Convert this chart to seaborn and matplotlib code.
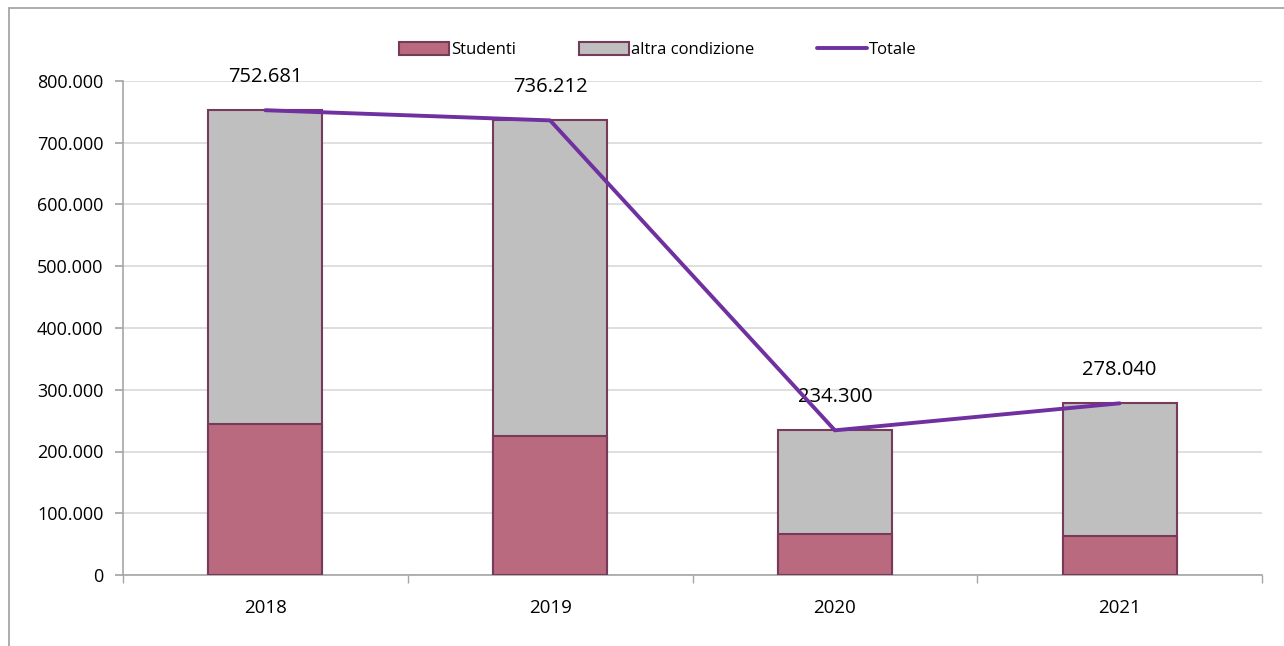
import numpy as np
import pandas as pd
import matplotlib
matplotlib.use("Agg")
import matplotlib.pyplot as plt
from matplotlib.patches import Patch
from matplotlib.lines import Line2D
from matplotlib.ticker import FuncFormatter
import seaborn as sns

# dati
anni = ["2018", "2019", "2020", "2021"]
studenti = [244500, 225100, 65900, 63200]
totale = [752681, 736212, 234300, 278040]
altra_condizione = [t - s for t, s in zip(totale, studenti)]

col_stud = "#B96A7E"
col_altra = "#BFBFBF"
col_bordo = "#763A5A"
col_tot = "#7030A0"

sns.set_theme(style="white")
plt.rcParams["font.family"] = ["Open Sans", "DejaVu Sans"]

df = pd.DataFrame({"anno": anni, "studenti": studenti, "totale": totale})

fig = plt.figure(figsize=(12.84, 6.46), dpi=100)
ax = fig.add_axes([123 / 1284, 1 - 575 / 646, (1262 - 123) / 1284, (575 - 81) / 646])

# barra grigia = totale, sopra la parte studenti
sns.barplot(data=df, x="anno", y="totale", color=col_altra, saturation=1,
            width=0.4, edgecolor=col_bordo, linewidth=1.5, ax=ax, zorder=2)
sns.barplot(data=df, x="anno", y="studenti", color=col_stud, saturation=1,
            width=0.4, edgecolor=col_bordo, linewidth=1.5, ax=ax, zorder=3)
sns.lineplot(x=np.arange(len(anni)), y=totale, color=col_tot, linewidth=2.8,
             ax=ax, zorder=4)

fmt = lambda v: f"{int(v):,}".replace(",", ".")
for i, t in enumerate(totale):
    ax.annotate(fmt(t), (i, t), xytext=(0, 17), textcoords="offset points",
                ha="center", va="bottom", fontsize=14.5, color="black")

ax.set_ylim(0, 800000)
ax.set_xlim(-0.5, 3.5)
ax.set_yticks(np.arange(0, 800001, 100000))
ax.yaxis.set_major_formatter(FuncFormatter(lambda v, p: fmt(v)))
ax.grid(axis="y", color="#D9D9D9", linewidth=1.2, zorder=0)
ax.set_axisbelow(True)
ax.set_xlabel("")
ax.set_ylabel("")

for s in ["top", "right"]:
    ax.spines[s].set_visible(False)
for s in ["left", "bottom"]:
    ax.spines[s].set_color("#A6A6A6")
    ax.spines[s].set_linewidth(1.2)

ax.tick_params(axis="y", left=True, length=6, color="#A6A6A6", labelsize=13,
               labelcolor="black", pad=8)
ax.tick_params(axis="x", bottom=False, labelsize=13.5, labelcolor="black", pad=11)
ax.set_xticks(np.arange(-0.5, 3.6, 1), minor=True)
ax.tick_params(axis="x", which="minor", bottom=True, length=6, color="#A6A6A6")

handles = [Patch(facecolor=col_stud, edgecolor=col_bordo, linewidth=1.5),
           Patch(facecolor=col_altra, edgecolor=col_bordo, linewidth=1.5),
           Line2D([0], [0], color=col_tot, linewidth=2.8)]
fig.legend(handles, ["Studenti", "altra condizione", "Totale"], loc="center",
           bbox_to_anchor=(0.5125, 1 - 50 / 646), ncol=3, frameon=False,
           fontsize=12, handlelength=3.0, handleheight=0.8, handletextpad=0.1,
           columnspacing=3.8, labelcolor="black")

# cornice del grafico
fig.add_artist(Line2D([9 / 1284, 9 / 1284], [0, 1 - 8 / 646], color="#A6A6A6", linewidth=1.3))
fig.add_artist(Line2D([9 / 1284, 1], [1 - 8 / 646, 1 - 8 / 646], color="#A6A6A6", linewidth=1.3))

fig.savefig("out.png", dpi=100)
